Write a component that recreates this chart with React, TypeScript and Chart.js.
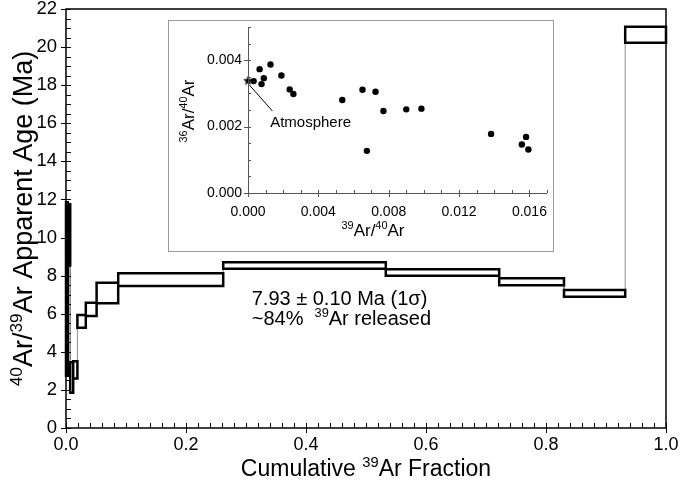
import React, { useEffect, useRef } from "react";
import { Chart, registerables } from "chart.js";

Chart.register(...registerables);

const FONT = '"Liberation Sans", Arial, Helvetica, sans-serif';

// ---- Main age spectrum data ----
const stepStart = [0.0, 0.003, 0.007, 0.012, 0.019, 0.033, 0.051, 0.087, 0.262, 0.533, 0.722, 0.83, 0.932];
const stepEnd = [0.003, 0.007, 0.012, 0.019, 0.033, 0.051, 0.087, 0.262, 0.533, 0.722, 0.83, 0.932, 1.0];
const ageLow = [2.75, 8.55, 1.85, 2.6, 5.27, 5.88, 6.55, 7.45, 8.36, 8.0, 7.49, 6.89, 20.23];
const ageHigh = [11.85, 11.75, 3.45, 3.5, 5.93, 6.58, 7.63, 8.12, 8.7, 8.33, 7.86, 7.24, 21.07];

const mainXTicks = [0, 0.2, 0.4, 0.6, 0.8, 1.0];
const mainXLabels = ["0.0", "0.2", "0.4", "0.6", "0.8", "1.0"];
const mainYTicks = [0, 2, 4, 6, 8, 10, 12, 14, 16, 18, 20, 22];
const mainYLabels = ["0", "2", "4", "6", "8", "10", "12", "14", "16", "18", "20", "22"];

const plateauText = "7.93 \u00b1 0.10 Ma (1\u03c3)";
const plateauPos = [0.3095, 6.82];
const releasedPos = [0.3095, 5.77];

// ---- Inset isochron data ----
const isoX = [0.00032, 0.00066, 0.00077, 0.0009, 0.00128, 0.0019, 0.00237, 0.00258, 0.00536, 0.00651, 0.00676, 0.00725, 0.0077, 0.009, 0.00986, 0.01382, 0.01581, 0.01557, 0.01594];
const isoY = [0.00337, 0.00373, 0.00328, 0.00346, 0.00387, 0.00354, 0.00312, 0.00298, 0.0028, 0.00311, 0.00127, 0.00305, 0.00247, 0.00252, 0.00254, 0.00178, 0.00169, 0.00146, 0.00131];
const atmX = [0];
const atmY = [0.00338];

const insetXTicks = [0, 0.004, 0.008, 0.012, 0.016];
const insetXLabels = ["0.000", "0.004", "0.008", "0.012", "0.016"];
const insetYTicks = [0, 0.002, 0.004];
const insetYLabels = ["0.000", "0.002", "0.004"];

const atmLeaderFrom = [0.00008, 0.00325];
const atmLeaderTo = [0.00139, 0.00247];
const atmLabelPos = [0.00126, 0.00215];

type Part = { t: string; sup?: boolean };

function drawRich(ctx: CanvasRenderingContext2D, parts: Part[], x: number, y: number, size: number, align: "left" | "center") {
  const supSize = size * 0.64;
  let w = 0;
  for (const p of parts) {
    ctx.font = `${p.sup ? supSize : size}px ${FONT}`;
    w += ctx.measureText(p.t).width;
  }
  let cx = align === "center" ? x - w / 2 : x;
  ctx.textAlign = "left";
  ctx.textBaseline = "alphabetic";
  const base = y + size * 0.35;
  for (const p of parts) {
    ctx.font = `${p.sup ? supSize : size}px ${FONT}`;
    ctx.fillText(p.t, cx, p.sup ? base - size * 0.4 : base);
    cx += ctx.measureText(p.t).width;
  }
}

function drawTicks(ctx: CanvasRenderingContext2D, chart: any, xMin: number, xMax: number, xMinor: number, xMajor: number, yMin: number, yMax: number, yMinor: number, yMajor: number, inLen: number, outLen: number) {
  const a = chart.chartArea;
  const xs = chart.scales.x;
  const ys = chart.scales.y;
  ctx.beginPath();
  const nx = Math.round((xMax - xMin) / xMinor);
  for (let i = 0; i <= nx; i++) {
    const v = xMin + i * xMinor;
    const major = Math.abs(v / xMajor - Math.round(v / xMajor)) < 1e-6;
    const px = Math.round(xs.getPixelForValue(v)) + 0.5;
    ctx.moveTo(px, a.bottom - inLen);
    ctx.lineTo(px, a.bottom + (major ? outLen : 0));
  }
  const ny = Math.round((yMax - yMin) / yMinor);
  for (let i = 0; i <= ny; i++) {
    const v = yMin + i * yMinor;
    const major = Math.abs(v / yMajor - Math.round(v / yMajor)) < 1e-6;
    const py = Math.round(ys.getPixelForValue(v)) + 0.5;
    ctx.moveTo(a.left + inLen, py);
    ctx.lineTo(a.left - (major ? outLen : 0), py);
  }
  ctx.stroke();
}

function makeStar(r: number) {
  const c = document.createElement("canvas");
  const size = Math.ceil(r * 2 + 2);
  c.width = size;
  c.height = size;
  const g = c.getContext("2d")!;
  g.fillStyle = "#000";
  g.beginPath();
  for (let i = 0; i < 10; i++) {
    const rad = i % 2 === 0 ? r : r * 0.42;
    const ang = -Math.PI / 2 + (i * Math.PI) / 5;
    const px = size / 2 + rad * Math.cos(ang);
    const py = size / 2 + rad * Math.sin(ang);
    if (i === 0) g.moveTo(px, py);
    else g.lineTo(px, py);
  }
  g.closePath();
  g.fill();
  return c;
}

const fitX = (h: number) => (s: any) => {
  s.height = h;
  s.paddingLeft = 0;
  s.paddingRight = 0;
  s.paddingTop = 0;
  s.paddingBottom = 0;
};
const fitY = (w: number) => (s: any) => {
  s.width = w;
  s.paddingLeft = 0;
  s.paddingRight = 0;
  s.paddingTop = 0;
  s.paddingBottom = 0;
};

function MainChart() {
  const ref = useRef<HTMLCanvasElement>(null);
  useEffect(() => {
    const boxData: any[] = [];
    for (let i = 0; i < stepStart.length; i++) {
      const s = stepStart[i], e = stepEnd[i], lo = ageLow[i], hi = ageHigh[i];
      boxData.push({ x: s, y: lo }, { x: e, y: lo }, { x: e, y: hi }, { x: s, y: hi }, { x: s, y: lo }, { x: s, y: null });
    }
    const connData: any[] = [];
    for (let i = 1; i < stepStart.length; i++) {
      const bx = stepStart[i];
      if (ageLow[i] > ageHigh[i - 1]) {
        connData.push({ x: bx, y: ageHigh[i - 1] }, { x: bx, y: ageLow[i] }, { x: bx, y: null });
      } else if (ageHigh[i] < ageLow[i - 1]) {
        connData.push({ x: bx, y: ageLow[i - 1] }, { x: bx, y: ageHigh[i] }, { x: bx, y: null });
      }
    }
    const decor = {
      id: "mainDecor",
      afterDraw(chart: any) {
        const ctx: CanvasRenderingContext2D = chart.ctx;
        const a = chart.chartArea;
        const xs = chart.scales.x;
        const ys = chart.scales.y;
        ctx.save();
        ctx.strokeStyle = "#000";
        ctx.lineWidth = 1.5;
        ctx.strokeRect(a.left, a.top, a.right - a.left, a.bottom - a.top);
        ctx.lineWidth = 1;
        drawTicks(ctx, chart, 0, 1, 0.02, 0.2, 0, 22, 0.5, 2, 5, 5);
        ctx.fillStyle = "#000";
        drawRich(ctx, [{ t: plateauText }], xs.getPixelForValue(plateauPos[0]), ys.getPixelForValue(plateauPos[1]), 20, "left");
        drawRich(ctx, [{ t: "~84%  " }, { t: "39", sup: true }, { t: "Ar released" }], xs.getPixelForValue(releasedPos[0]), ys.getPixelForValue(releasedPos[1]), 20, "left");
        drawRich(ctx, [{ t: "Cumulative " }, { t: "39", sup: true }, { t: "Ar Fraction" }], (a.left + a.right) / 2, 468, 23, "center");
        ctx.translate(23, (a.top + a.bottom) / 2);
        ctx.rotate(-Math.PI / 2);
        drawRich(ctx, [{ t: "40", sup: true }, { t: "Ar/" }, { t: "39", sup: true }, { t: "Ar Apparent Age (Ma)" }], 0, 0, 27, "center");
        ctx.restore();
      },
    };
    const chart = new Chart(ref.current!, {
      type: "scatter",
      data: {
        datasets: [
          { data: boxData, showLine: true, borderColor: "#000", borderWidth: 2.5, pointRadius: 0, spanGaps: false, borderJoinStyle: "miter", borderCapStyle: "square", clip: 4 } as any,
          { data: connData, showLine: true, borderColor: "#8a8a8a", borderWidth: 1, pointRadius: 0, spanGaps: false } as any,
        ],
      },
      options: {
        animation: false,
        responsive: false,
        devicePixelRatio: 1,
        layout: { padding: { top: 9, right: 14, left: 0, bottom: 0 } },
        plugins: { legend: { display: false }, tooltip: { enabled: false } },
        scales: {
          x: {
            type: "linear",
            min: 0,
            max: 1,
            grid: { display: false, drawTicks: false },
            border: { display: false },
            afterBuildTicks: (s: any) => { s.ticks = mainXTicks.map((v) => ({ value: v })); },
            afterFit: fitX(53),
            ticks: {
              autoSkip: false,
              maxRotation: 0,
              padding: 6,
              color: "#000",
              font: { size: 18, family: FONT },
              callback: (v: any, i: number) => mainXLabels[i],
            },
          },
          y: {
            type: "linear",
            min: 0,
            max: 22,
            grid: { display: false, drawTicks: false },
            border: { display: false },
            afterBuildTicks: (s: any) => { s.ticks = mainYTicks.map((v) => ({ value: v })); },
            afterFit: fitY(66),
            ticks: {
              autoSkip: false,
              padding: 9,
              color: "#000",
              font: { size: 18.5, family: FONT },
              callback: (v: any, i: number) => mainYLabels[i],
            },
          },
        },
      } as any,
      plugins: [decor],
    });
    return () => chart.destroy();
  }, []);
  return <canvas ref={ref} width={680} height={481} style={{ position: "absolute", left: 0, top: 0 }} />;
}

function InsetChart() {
  const ref = useRef<HTMLCanvasElement>(null);
  useEffect(() => {
    const pts = isoX.map((x, i) => ({ x, y: isoY[i] }));
    const atm = atmX.map((x, i) => ({ x, y: atmY[i] }));
    const star = makeStar(5.2);
    const decor = {
      id: "insetDecor",
      afterDraw(chart: any) {
        const ctx: CanvasRenderingContext2D = chart.ctx;
        const a = chart.chartArea;
        const xs = chart.scales.x;
        const ys = chart.scales.y;
        ctx.save();
        ctx.strokeStyle = "#555";
        ctx.lineWidth = 1;
        ctx.beginPath();
        ctx.moveTo(Math.round(a.left) + 0.5, a.top);
        ctx.lineTo(Math.round(a.left) + 0.5, Math.round(a.bottom) + 0.5);
        ctx.lineTo(a.right, Math.round(a.bottom) + 0.5);
        ctx.stroke();
        drawTicks(ctx, chart, 0, 0.017, 0.001, 0.004, 0, 0.005, 0.0005, 0.002, 3, 4);
        // leader line
        ctx.strokeStyle = "#000";
        ctx.beginPath();
        ctx.moveTo(xs.getPixelForValue(atmLeaderFrom[0]), ys.getPixelForValue(atmLeaderFrom[1]));
        ctx.lineTo(xs.getPixelForValue(atmLeaderTo[0]), ys.getPixelForValue(atmLeaderTo[1]));
        ctx.stroke();
        ctx.fillStyle = "#000";
        drawRich(ctx, [{ t: "Atmosphere" }], xs.getPixelForValue(atmLabelPos[0]), ys.getPixelForValue(atmLabelPos[1]), 15, "left");
        drawRich(ctx, [{ t: "39", sup: true }, { t: "Ar/" }, { t: "40", sup: true }, { t: "Ar" }], 204, 209, 17, "center");
        ctx.translate(19, 90);
        ctx.rotate(-Math.PI / 2);
        drawRich(ctx, [{ t: "36", sup: true }, { t: "Ar/" }, { t: "40", sup: true }, { t: "Ar" }], 0, 0, 17, "center");
        ctx.restore();
      },
    };
    const chart = new Chart(ref.current!, {
      type: "scatter",
      data: {
        datasets: [
          { data: pts, pointRadius: 3.2, pointBackgroundColor: "#000", pointBorderWidth: 0, clip: false } as any,
          { data: atm, pointStyle: star, pointRadius: 5, clip: false } as any,
        ],
      },
      options: {
        animation: false,
        responsive: false,
        devicePixelRatio: 1,
        layout: { padding: { top: 4, right: 5, left: 0, bottom: 0 } },
        plugins: { legend: { display: false }, tooltip: { enabled: false } },
        scales: {
          x: {
            type: "linear",
            min: 0,
            max: 0.017,
            grid: { display: false, drawTicks: false },
            border: { display: false },
            afterBuildTicks: (s: any) => { s.ticks = insetXTicks.map((v) => ({ value: v })); },
            afterFit: fitX(58),
            ticks: {
              autoSkip: false,
              maxRotation: 0,
              padding: 11,
              color: "#000",
              font: { size: 14, family: FONT },
              callback: (v: any, i: number) => insetXLabels[i],
            },
          },
          y: {
            type: "linear",
            min: 0,
            max: 0.005,
            grid: { display: false, drawTicks: false },
            border: { display: false },
            afterBuildTicks: (s: any) => { s.ticks = insetYTicks.map((v) => ({ value: v })); },
            afterFit: fitY(79),
            ticks: {
              autoSkip: false,
              padding: 6,
              color: "#000",
              font: { size: 14, family: FONT },
              callback: (v: any, i: number) => insetYLabels[i],
            },
          },
        },
      } as any,
      plugins: [decor],
    });
    return () => chart.destroy();
  }, []);
  return (
    <div style={{ position: "absolute", left: 168, top: 20, width: 384, height: 230, border: "1px solid #9a9a9a", background: "#fff" }}>
      <canvas ref={ref} width={384} height={230} style={{ display: "block" }} />
    </div>
  );
}

export default function App() {
  useEffect(() => {
    document.body.style.margin = "0";
    document.body.style.background = "#fff";
  }, []);
  return (
    <div style={{ position: "relative", width: 680, height: 481, background: "#fff", overflow: "hidden" }}>
      <MainChart />
      <InsetChart />
    </div>
  );
}
